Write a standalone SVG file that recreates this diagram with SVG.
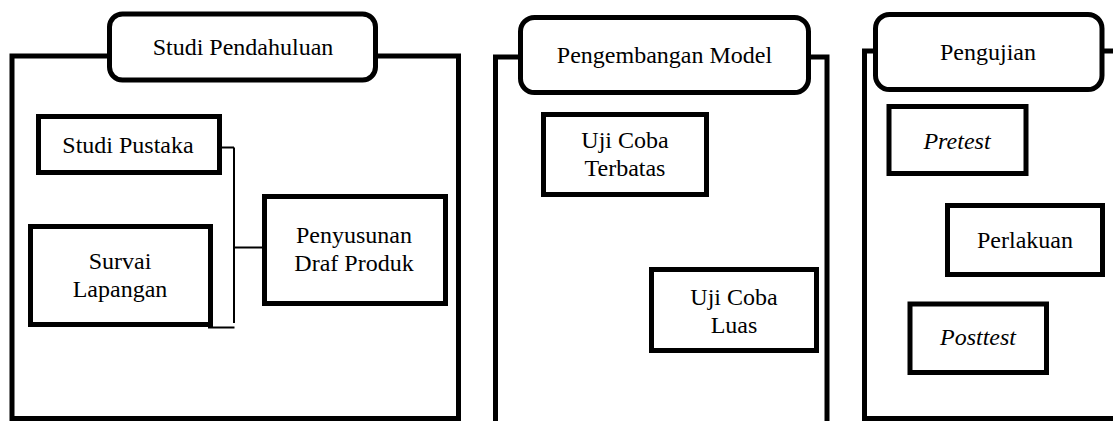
<svg xmlns="http://www.w3.org/2000/svg" width="1113" height="421" viewBox="0 0 1113 421">
<style>
.frame{fill:none;stroke:#000;stroke-width:5}
.title{fill:#fff;stroke:#000;stroke-width:5}
.box{fill:#fff;stroke:#000;stroke-width:5}
.conn{fill:none;stroke:#000;stroke-width:2}
text{font-family:"Liberation Serif","Times New Roman",serif;font-size:24px;fill:#000;text-anchor:middle}
.it{font-style:italic}
</style>
<rect width="1113" height="421" fill="#fff"/>
<g id="panel-studi-pendahuluan">
<rect class="frame" x="12" y="56" width="446.5" height="362.5"/>
<rect class="title" x="109.5" y="14" width="266" height="66" rx="13"/>
<text x="243" y="55">Studi Pendahuluan</text>
</g>
<g id="panel-pengembangan-model">
<path class="frame" d="M495.5,421 V57 H827 V421"/>
<rect class="title" x="520.5" y="17.5" width="288" height="75" rx="14"/>
<text x="664.5" y="63">Pengembangan Model</text>
</g>
<g id="panel-pengujian">
<path class="frame" d="M1113,51 H864.5 V418.5 H1113"/>
<rect class="title" x="875.5" y="14.5" width="226.5" height="75" rx="14"/>
<text x="988" y="60">Pengujian</text>
</g>
<g id="node-studi-pustaka">
<rect class="box" x="38.5" y="116.5" width="181" height="56"/>
<text x="128" y="153">Studi Pustaka</text>
</g>
<g id="node-survai-lapangan">
<rect class="box" x="30.5" y="226.5" width="180" height="98"/>
<text x="120" y="269">Survai</text>
<text x="120" y="297">Lapangan</text>
</g>
<g id="node-penyusunan">
<rect class="box" x="264.5" y="196.5" width="181" height="107"/>
<text x="354" y="243">Penyusunan</text>
<text x="354" y="271">Draf Produk</text>
</g>
<g id="node-uji-coba-terbatas">
<rect class="box" x="543.5" y="114.5" width="163" height="80"/>
<text x="625" y="148">Uji Coba</text>
<text x="625" y="176">Terbatas</text>
</g>
<g id="node-uji-coba-luas">
<rect class="box" x="651.5" y="269.5" width="165" height="81"/>
<text x="734" y="305">Uji Coba</text>
<text x="734" y="333">Luas</text>
</g>
<g id="node-pretest">
<rect class="box" x="889" y="106.5" width="137" height="67"/>
<text class="it" x="957" y="149">Pretest</text>
</g>
<g id="node-perlakuan">
<rect class="box" x="947.5" y="205.5" width="155" height="69"/>
<text x="1025" y="248">Perlakuan</text>
</g>
<g id="node-posttest">
<rect class="box" x="910" y="304" width="136.5" height="68.5"/>
<text class="it" x="978" y="345">Posttest</text>
</g>
<g id="connectors">
<path class="conn" d="M222,147.5 H234"/>
<path class="conn" d="M234,147.5 V323"/>
<path class="conn" d="M234,247.5 H262"/>
<path class="conn" d="M208,327.5 H234.5"/>
</g>
</svg>
